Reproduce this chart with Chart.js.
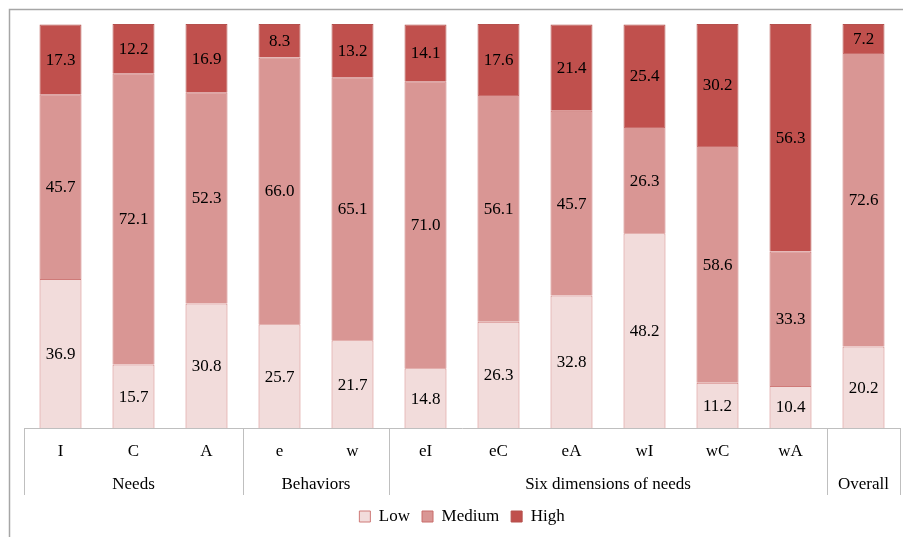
<!DOCTYPE html>
<html><head><meta charset="utf-8">
<script src="https://cdn.jsdelivr.net/npm/chart.js@4"></script>
<style>html,body{margin:0;padding:0;background:#fff}#wrap{width:903px;height:537px;position:relative}</style>
</head><body><div id="wrap"><canvas id="c"></canvas></div>
<script>
const categories = ['I','C','A','e','w','eI','eC','eA','wI','wC','wA',''];
const groupLabels = ['Needs','Behaviors','Six dimensions of needs','Overall'];
const groupStarts = [0,3,5,11];
const groupEnds = [2,4,10,11];
const lowValues = [36.9,15.7,30.8,25.7,21.7,14.8,26.3,32.8,48.2,11.2,10.4,20.2];
const mediumValues = [45.7,72.1,52.3,66.0,65.1,71.0,56.1,45.7,26.3,58.6,33.3,72.6];
const highValues = [17.3,12.2,16.9,8.3,13.2,14.1,17.6,21.4,25.4,30.2,56.3,7.2];

const FONT = 'Liberation Serif';

const segmentLabels = {
  id: 'segmentLabels',
  afterDatasetsDraw(chart) {
    const ctx = chart.ctx;
    ctx.save();
    ctx.font = '17px "' + FONT + '"';
    ctx.fillStyle = '#000';
    ctx.textAlign = 'center';
    ctx.textBaseline = 'middle';
    chart.data.datasets.forEach((ds, di) => {
      const meta = chart.getDatasetMeta(di);
      meta.data.forEach((el, i) => {
        const v = ds.data[i];
        ctx.fillText(v.toFixed(1), el.x, (el.y + el.base) / 2 + 1);
      });
    });
    ctx.restore();
  }
};

const groupAxis = {
  id: 'groupAxis',
  beforeDraw(chart) {
    const ctx = chart.ctx;
    ctx.save();
    ctx.strokeStyle = '#a6a6a6';
    ctx.lineWidth = 1.5;
    ctx.beginPath();
    ctx.moveTo(9.5, chart.height + 2);
    ctx.lineTo(9.5, 9.5);
    ctx.lineTo(chart.width + 2, 9.5);
    ctx.stroke();
    ctx.restore();
  },
  afterDraw(chart) {
    const ctx = chart.ctx;
    const x = chart.scales.x;
    const half = (x.getPixelForValue(1) - x.getPixelForValue(0)) / 2;
    const top = chart.chartArea.bottom;
    ctx.save();
    ctx.strokeStyle = '#bfbfbf';
    ctx.lineWidth = 1;
    ctx.font = '17px "' + FONT + '"';
    ctx.fillStyle = '#000';
    ctx.textAlign = 'center';
    ctx.textBaseline = 'middle';
    const edges = new Set();
    groupLabels.forEach((g, k) => {
      const l = x.getPixelForValue(groupStarts[k]) - half;
      const r = x.getPixelForValue(groupEnds[k]) + half;
      edges.add(Math.round(l)); edges.add(Math.round(r));
      ctx.fillText(g, (l + r) / 2, top + 57);
    });
    edges.forEach(e => {
      ctx.beginPath();
      ctx.moveTo(e + 0.5, top);
      ctx.lineTo(e + 0.5, top + 67);
      ctx.stroke();
    });
    ctx.restore();
  }
};

new Chart(document.getElementById('c'), {
  type: 'bar',
  data: {
    labels: categories,
    datasets: [
      {label: 'Low', data: lowValues, backgroundColor: '#f2dcdb', borderColor: '#cf7a78', borderWidth: 1},
      {label: 'Medium', data: mediumValues, backgroundColor: '#d99694', borderColor: '#c96d6b', borderWidth: 1},
      {label: 'High', data: highValues, backgroundColor: '#c0504d', borderColor: '#b5504d', borderWidth: 1}
    ]
  },
  options: {
    responsive: true,
    maintainAspectRatio: false,
    animation: false,
    devicePixelRatio: 1,
    layout: {padding: {top: 24, left: 24, right: 3, bottom: 2}},
    datasets: {bar: {categoryPercentage: 1, barPercentage: 0.575}},
    scales: {
      x: {
        stacked: true,
        grid: {display: false, drawTicks: false},
        border: {display: true, color: '#bfbfbf', width: 1},
        ticks: {color: '#000', font: {family: FONT, size: 17}, padding: 13, maxRotation: 0, autoSkip: false},
        afterFit(scale) { scale.height = 68; }
      },
      y: {stacked: true, min: 0, max: 100, display: false}
    },
    plugins: {
      legend: {
        position: 'bottom',
        labels: {color: '#000', font: {family: FONT, size: 17}, boxWidth: 11, boxHeight: 11, padding: 12}
      },
      tooltip: {enabled: false}
    }
  },
  plugins: [segmentLabels, groupAxis]
});
</script></body></html>
